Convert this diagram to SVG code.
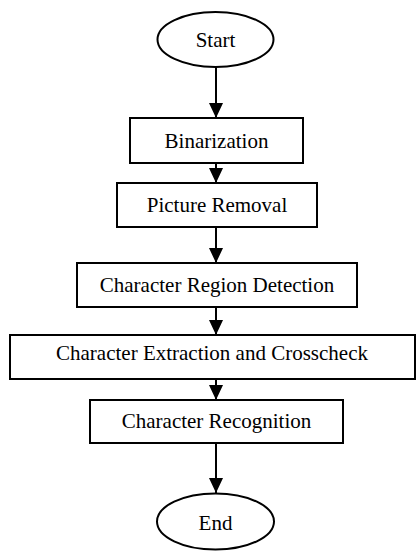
<svg xmlns="http://www.w3.org/2000/svg" width="416" height="551" viewBox="0 0 416 551">
<defs>
<style>
.box{fill:#fff;stroke:#000;stroke-width:2}
.lbl{font-family:"Liberation Serif","Times New Roman",serif;font-size:21px;fill:#000;text-anchor:middle}
.edge{stroke:#000;stroke-width:2;fill:none}
</style>
<marker id="ah" markerUnits="userSpaceOnUse" markerWidth="16" markerHeight="16" viewBox="0 0 16 16" refX="15" refY="8" orient="auto">
<path d="M0,1 L15,8 L0,15 Z" fill="#000"/>
</marker>
</defs>
<rect width="416" height="551" fill="#fff"/>
<g id="connectors">
<line class="edge" x1="216" y1="67" x2="216" y2="118" marker-end="url(#ah)"/>
<line class="edge" x1="216" y1="163" x2="216" y2="183" marker-end="url(#ah)"/>
<line class="edge" x1="216" y1="227" x2="216" y2="263" marker-end="url(#ah)"/>
<line class="edge" x1="216" y1="307" x2="216" y2="335" marker-end="url(#ah)"/>
<line class="edge" x1="216" y1="379" x2="216" y2="400" marker-end="url(#ah)"/>
<line class="edge" x1="216" y1="443" x2="216" y2="493" marker-end="url(#ah)"/>
</g>
<g id="start">
<ellipse class="box" cx="215.5" cy="39.5" rx="58" ry="27.5"/>
<text class="lbl" x="215.5" y="47">Start</text>
</g>
<g id="binarization">
<rect class="box" x="130" y="118" width="173" height="45"/>
<text class="lbl" x="216.5" y="148">Binarization</text>
</g>
<g id="picture-removal">
<rect class="box" x="117" y="183" width="200" height="44"/>
<text class="lbl" x="217" y="212">Picture Removal</text>
</g>
<g id="char-region">
<rect class="box" x="77" y="263" width="280" height="44"/>
<text class="lbl" x="217" y="292">Character Region Detection</text>
</g>
<g id="char-extraction">
<rect class="box" x="10" y="335" width="405" height="44"/>
<text class="lbl" x="212" y="360">Character Extraction and Crosscheck</text>
</g>
<g id="char-recognition">
<rect class="box" x="90" y="400" width="253" height="43"/>
<text class="lbl" x="216.5" y="428">Character Recognition</text>
</g>
<g id="end">
<ellipse class="box" cx="215.5" cy="521.5" rx="58.5" ry="28"/>
<text class="lbl" x="215.5" y="530">End</text>
</g>
</svg>
